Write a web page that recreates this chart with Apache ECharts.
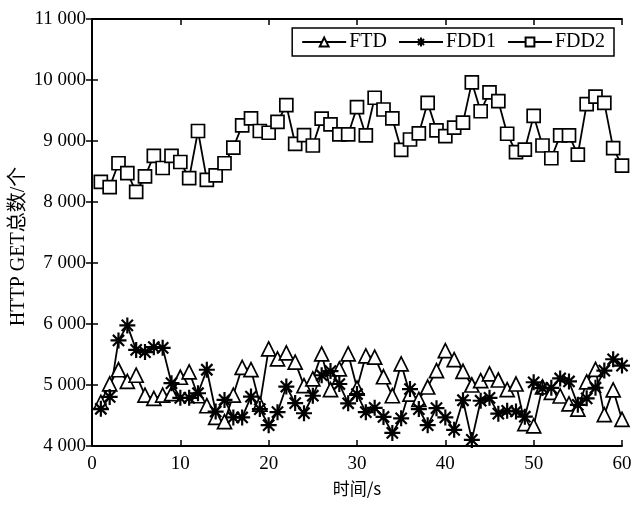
<!DOCTYPE html>
<html><head><meta charset="utf-8">
<script src="https://cdn.jsdelivr.net/npm/echarts@6/dist/echarts.min.js"></script>
<style>html,body{margin:0;padding:0;background:#fff}#c{width:639px;height:506px}</style>
</head><body><div id="c"></div>
<script>
var seconds = [];
for (var i = 1; i <= 60; i++) seconds.push(i);
var FTD = [4715,5020,5250,5060,5160,4835,4780,4835,4860,5127,5215,4824,4660,4470,4400,4835,5290,5252,4687,5593,
           5428,5527,5374,4989,5099,5511,4923,5264,5511,4950,5478,5456,5135,4824,5346,4852,4765,4967,5236,5565,
           5417,5225,5000,5071,5181,5082,4923,5016,4366,4330,4970,4880,4820,4690,4605,5050,5255,4515,4920,4435];
var FDD1 = [4610,4805,5730,5977,5575,5540,5620,5609,5030,4790,4790,4865,5250,4565,4755,4468,4468,4810,4605,4341,
            4555,4975,4704,4537,4824,5160,5228,5016,4700,4852,4555,4626,4476,4215,4454,4934,4605,4341,4620,4468,
            4265,4750,4100,4742,4790,4530,4577,4566,4480,5045,4950,4953,5107,5058,4675,4781,4955,5236,5422,5318];
var FDD2 = [8330,8243,8635,8474,8165,8420,8755,8557,8755,8656,8392,9164,8364,8436,8635,8892,9256,9372,9164,9135,
            9312,9587,8954,9097,8926,9367,9273,9107,9107,9554,9091,9709,9516,9372,8855,9025,9124,9626,9174,9081,
            9218,9301,9962,9488,9797,9653,9119,8816,8859,9412,8926,8717,9091,9091,8777,9603,9726,9626,8882,8595];
var seriesNames = ['FTD','FDD1','FDD2'];
var yTicks = [4000,5000,6000,7000,8000,9000,10000,11000];

var serif = '"Liberation Serif","Times New Roman",serif';
function fmt(v){ if (v < 1000) return String(v); return Math.floor(v/1000) + ' ' + String(v%1000).padStart(3,'0'); }
function pairs(arr){ return arr.map(function(v,i){ return [seconds[i], v]; }); }
var star = 'path://M5,0L5,10M0,5L10,5M1.5,1.5L8.5,8.5M8.5,1.5L1.5,8.5';

var chart = echarts.init(document.getElementById('c'), null, {renderer:'canvas'});
var axisLine = {show:true, lineStyle:{color:'#000', width:1.8}};
var tick = {inside:true, length:6, lineStyle:{color:'#000', width:1.5}};
chart.setOption({
  animation:false,
  backgroundColor:'#fff',
  grid:{left:92, right:17, top:19, bottom:60, show:false, containLabel:false, outerBoundsMode:'none'},
  legend:{
    data:seriesNames, top:28, right:25, orient:'horizontal',
    borderColor:'#000', borderWidth:1.5, padding:[4,9,4,9], itemGap:11,
    itemWidth:44, itemHeight:11,
    textStyle:{fontFamily:serif, fontSize:20, color:'#000', padding:[0,0,0,-2]}
  },
  xAxis:[{
    type:'value', min:0, max:60, interval:10,
    name:'时间/s', nameLocation:'middle', nameGap:34, nameMoveOverlap:false,
    nameTextStyle:{fontFamily:'"Noto Sans CJK SC","Liberation Serif",sans-serif', fontSize:17, color:'#000'},
    axisLine:axisLine, axisTick:tick,
    axisLabel:{fontFamily:serif, fontSize:19, color:'#000', margin:9},
    splitLine:{show:false}
  },{
    type:'value', min:0, max:60, interval:10, position:'top',
    axisLine:axisLine, axisTick:tick,
    axisLabel:{show:false}, splitLine:{show:false}
  }],
  yAxis:[{
    type:'value', min:yTicks[0], max:yTicks[yTicks.length-1], interval:1000,
    name:'HTTP GET总数/个', nameLocation:'middle', nameGap:63, nameRotate:90, nameMoveOverlap:false,
    nameTextStyle:{fontFamily:'"Liberation Serif","Noto Sans CJK SC",serif', fontSize:20, color:'#000', padding:[0,28,0,0]},
    axisLine:axisLine, axisTick:tick,
    axisLabel:{fontFamily:serif, fontSize:19, color:'#000', margin:6, formatter:fmt},
    splitLine:{show:false}
  },{
    type:'value', min:yTicks[0], max:yTicks[yTicks.length-1], interval:1000, position:'right',
    axisLine:axisLine, axisTick:tick,
    axisLabel:{show:false}, splitLine:{show:false}
  }],
  series:[
    {name:'FTD', type:'line', data:pairs(FTD), symbol:'triangle', symbolSize:14,
     lineStyle:{color:'#000', width:1.8}, itemStyle:{color:'#fff', borderColor:'#000', borderWidth:1.7}},
    {name:'FDD1', type:'line', data:pairs(FDD1), symbol:star, symbolSize:16,
     lineStyle:{color:'#000', width:1.8}, itemStyle:{color:'#000', borderColor:'#000', borderWidth:2.2}},
    {name:'FDD2', type:'line', data:pairs(FDD2), symbol:'rect', symbolSize:13,
     lineStyle:{color:'#000', width:1.8}, itemStyle:{color:'#fff', borderColor:'#000', borderWidth:1.7}}
  ]
});
</script></body></html>
